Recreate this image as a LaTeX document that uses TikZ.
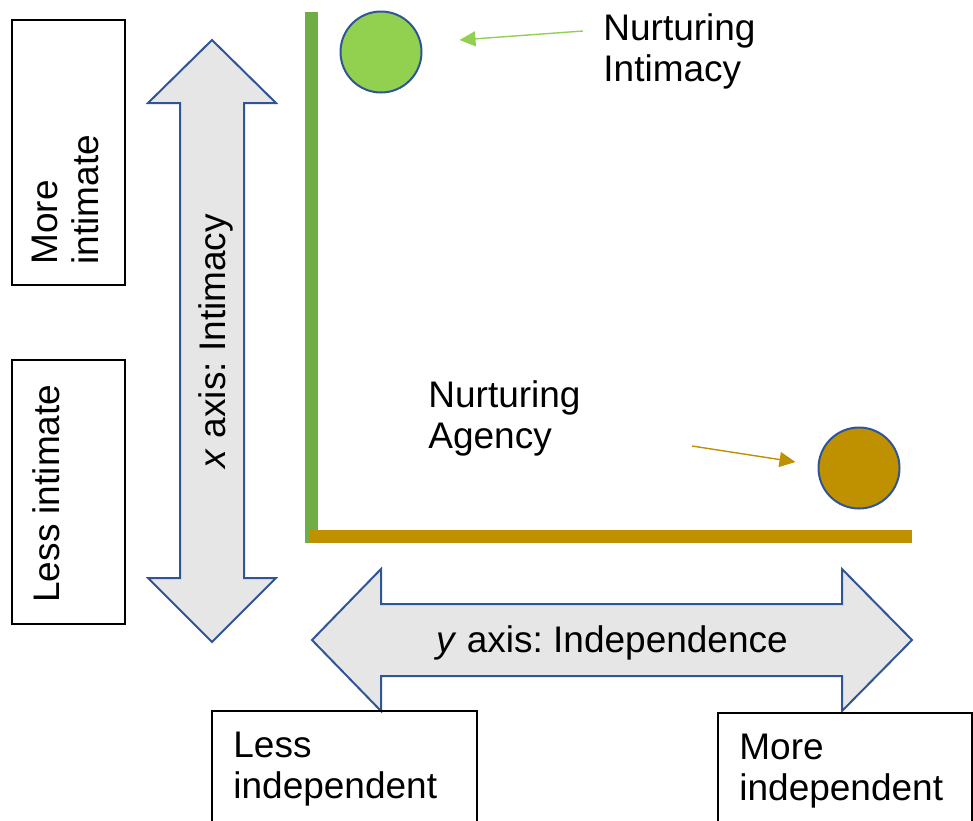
\documentclass[tikz,border=0pt]{standalone}
\usepackage{fontspec}
\setmainfont{Liberation Sans}
\usepackage{xcolor}
\usepackage{tikz}
\usetikzlibrary{shapes,arrows.meta}
\frenchspacing
\definecolor{axisblue}{HTML}{2F5597}
\definecolor{arrowgray}{HTML}{E7E6E6}
\definecolor{leafgreen}{HTML}{92D050}
\definecolor{stemgreen}{HTML}{70AD47}
\definecolor{gold}{HTML}{BF9000}
\tikzstyle{frame} = [rectangle, draw=black, line width=0.7pt, inner sep=0pt]
\tikzstyle{txt} = [inner sep=0pt, align=left, font=\fontsize{18.5}{20.4}\selectfont]
\tikzstyle{bigarrow} = [draw=axisblue, fill=arrowgray, line width=1pt, line join=miter]
\tikzstyle{dot} = [circle, draw=axisblue, line width=1pt, minimum size=40.5pt, inner sep=0pt]
\tikzstyle{pointer} = [line width=0.7pt, -{Triangle[length=8pt,width=7.5pt]}]

\begin{document}
\begin{tikzpicture}[x=0.5pt, y=-0.5pt]
\useasboundingbox (0,0) rectangle (973,820);
\clip (0,0) rectangle (973,820);

% the two axes
\draw [stemgreen, line width=6.5pt] (311.5,12) -- (311.5,543);
\draw [gold, line width=6.5pt] (309,536.5) -- (912,536.5);

% big double arrows
\path [bigarrow] (212,40) -- (276,103) -- (244,103) -- (244,578) -- (276,578) -- (212,642)
  -- (148,578) -- (180,578) -- (180,103) -- (148,103) -- cycle;
\path [bigarrow] (312,640) -- (381,569) -- (381,604) -- (842,604) -- (842,569) -- (912,640)
  -- (842,711) -- (842,676) -- (381,676) -- (381,711) -- cycle;
\node [txt, rotate=90] (xlabel) at (216,341) {\textit{x} axis: Intimacy};
\node [txt] (ylabel) at (612,643) {\textit{y} axis: Independence};

% end boxes
\node [frame, minimum width=56.5pt, minimum height=132.5pt] (moreint) at (68.5,152.5) {};
\node [frame, minimum width=56.5pt, minimum height=132pt] (lessint) at (68.5,492) {};
\node [frame, minimum width=132.5pt, minimum height=64.5pt] (lessind) at (344.5,775.5) {};
\node [frame, minimum width=127pt, minimum height=63.5pt] (moreind) at (845,776.5) {};
\node [txt, rotate=90, anchor=north west] (moreinttxt) at (32,265) {More\\intimate};
\node [txt, rotate=90, anchor=north west] (lessinttxt) at (32,603) {Less intimate};
\node [txt, anchor=north west] (lessindtxt) at (233,732) {Less\\independent};
\node [txt, anchor=north west] (moreindtxt) at (739,734) {More\\independent};

% the two nurturing points
\node [dot, fill=leafgreen] (intdot) at (381,52) {};
\node [dot, fill=gold] (agdot) at (859,468) {};
\node [txt, anchor=north west] (nurint) at (603,13) {Nurturing\\Intimacy};
\node [txt, anchor=north west] (nurag) at (428,380) {Nurturing\\Agency};
\coordinate (inttail) at (583,31);
\coordinate (agtail) at (692,446);
\draw [pointer, leafgreen] (inttail) -- ([xshift=18.5pt,yshift=6pt]intdot.east);
\draw [pointer, gold] (agtail) -- ([xshift=-11pt,yshift=3pt]agdot.west);
\end{tikzpicture}
\end{document}
